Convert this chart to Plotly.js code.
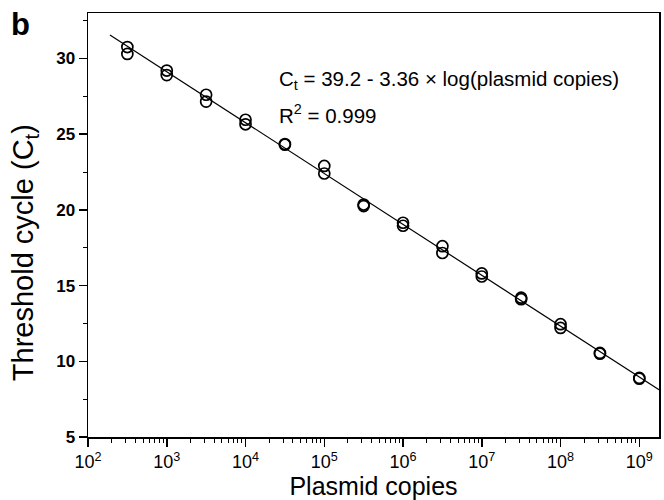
<!DOCTYPE html>
<html><head><meta charset="utf-8">
<script src="https://cdn.plot.ly/plotly-3.0.1.min.js"></script>
<style>html,body{margin:0;padding:0;background:#fff}#chart{width:664px;height:500px}</style>
</head><body><div id="chart"></div>
<script>
// Plasmid copies (x) and threshold cycles (two replicates each)
const copies = [316, 1000, 3162, 10000, 31623, 100000, 316228, 1000000, 3162278, 10000000, 31622777, 100000000, 316227766, 1000000000];
const ctRep1 = [30.75, 29.2, 27.6, 25.95, 24.35, 22.9, 20.35, 19.15, 17.6, 15.8, 14.2, 12.45, 10.55, 8.9];
const ctRep2 = [30.3, 28.9, 27.15, 25.65, 24.3, 22.4, 20.25, 18.95, 17.15, 15.6, 14.1, 12.2, 10.5, 8.85];
// Fit: Ct = 39.2 - 3.36 log(copies)
const fitIntercept = 39.2, fitSlope = -3.36;
const fitRange = [190, 1.78e9];
const xTickVals = [1e2, 1e3, 1e4, 1e5, 1e6, 1e7, 1e8, 1e9];
const xTickText = ['10<sup>2</sup>','10<sup>3</sup>','10<sup>4</sup>','10<sup>5</sup>','10<sup>6</sup>','10<sup>7</sup>','10<sup>8</sup>','10<sup>9</sup>'];
const yTickVals = [5, 10, 15, 20, 25, 30];

const fitY = fitRange.map(x => fitIntercept + fitSlope * Math.log10(x));
const font = 'Liberation Sans, Arial, sans-serif';
const markerStyle = {symbol: 'circle-open', size: 11, color: '#000', line: {width: 1.7, color: '#000'}};

const traces = [
  {x: fitRange, y: fitY, mode: 'lines', line: {color: '#000', width: 1.2}, hoverinfo: 'skip'},
  {x: copies, y: ctRep1, mode: 'markers', marker: markerStyle},
  {x: copies, y: ctRep2, mode: 'markers', marker: markerStyle}
];

const layout = {
  width: 664, height: 500,
  margin: {l: 88, r: 5, t: 13, b: 63},
  showlegend: false,
  paper_bgcolor: '#fff', plot_bgcolor: '#fff',
  font: {family: font, color: '#000'},
  xaxis: {
    type: 'log', range: [2, 9.25],
    tickvals: xTickVals, ticktext: xTickText,
    ticks: 'outside', ticklen: 8, tickwidth: 1.5, tickcolor: '#000',
    minor: {ticks: 'outside', ticklen: 4, tickwidth: 1, tickcolor: '#000', dtick: 'D1', showgrid: false},
    showline: true, linecolor: '#000', linewidth: 1.5, mirror: true,
    showgrid: false, zeroline: false,
    tickfont: {size: 18, family: font},
    title: {text: 'Plasmid copies', font: {size: 25, family: font}, standoff: 0}
  },
  yaxis: {
    range: [5, 33],
    tickvals: yTickVals,
    ticks: 'outside', ticklen: 8, tickwidth: 1.5, tickcolor: '#000',
    minor: {ticks: 'outside', ticklen: 4, tickwidth: 1, tickcolor: '#000', dtick: 2.5, showgrid: false},
    showline: true, linecolor: '#000', linewidth: 1.5, mirror: true,
    showgrid: false, zeroline: false,
    tickfont: {size: 17, family: font, weight: 'bold'}
  },
  annotations: [
    {xref: 'paper', yref: 'paper', x: -0.11, y: 0.434, xanchor: 'center', yanchor: 'middle', textangle: -90,
     text: 'Threshold cycle (C<sub>t</sub>)', showarrow: false, font: {size: 29, family: font}},
    {xref: 'paper', yref: 'paper', x: -0.138, y: 1.02, xanchor: 'left', yanchor: 'top',
     text: '<b>b</b>', showarrow: false, font: {size: 31, family: font}},
    {xref: 'paper', yref: 'paper', x: 0.331, y: 0.842, xanchor: 'left', yanchor: 'middle',
     text: 'C<sub>t</sub> = 39.2 - 3.36 × log(plasmid copies)', showarrow: false, font: {size: 20.5, family: font}},
    {xref: 'paper', yref: 'paper', x: 0.331, y: 0.762, xanchor: 'left', yanchor: 'middle',
     text: 'R<sup>2</sup> = 0.999', showarrow: false, font: {size: 20.5, family: font}}
  ]
};

Plotly.newPlot('chart', traces, layout, {displayModeBar: false, staticPlot: true});
</script></body></html>
